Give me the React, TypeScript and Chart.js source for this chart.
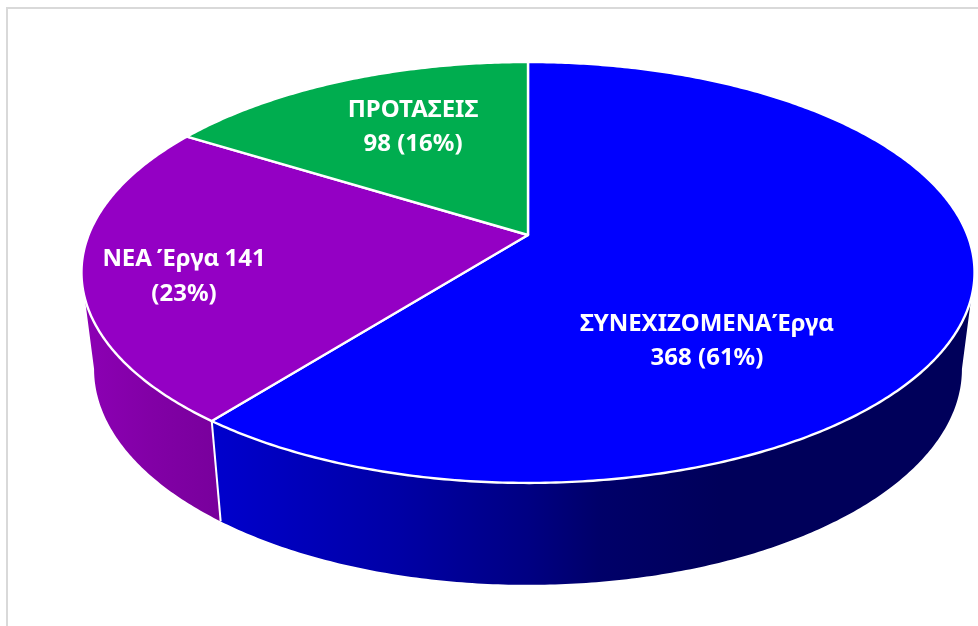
import React, { useEffect, useRef } from "react";
import { Chart, registerables } from "chart.js";

Chart.register(...registerables);

const categories = ["ΣΥΝΕΧΙΖΟΜΕΝΑ Έργα", "ΝΕΑ Έργα", "ΠΡΟΤΑΣΕΙΣ"];
const values = [368, 141, 98];
const percents = [61, 23, 16];
const colors = ["#0000FF", "#9400C4", "#00AD4F"];

// Projection of the tilted disc (unit circle -> screen, with perspective)
const CX = 528;
const P = 0.178;
const TOP = { a: 439.4, b: 203.8, y: 235 };
const BOTTOM = { a: 427, b: 209, y: 330.6 };

const project = (plane: { a: number; b: number; y: number }, angle: number) => {
  const t = angle + Math.PI / 2;
  const u = Math.sin(t);
  const v = -Math.cos(t);
  const w = 1 - P * v;
  return { x: CX + (plane.a * u) / w, y: plane.y + (plane.b * v) / w };
};

const arcPoints = (plane: typeof TOP, start: number, end: number) => {
  const n = Math.max(2, Math.ceil(Math.abs(end - start) / 0.01));
  const pts = [];
  for (let i = 0; i <= n; i++) pts.push(project(plane, start + ((end - start) * i) / n));
  return pts;
};

const wallStops: Record<number, [number, string][]> = {
  0: [
    [212, "#0000CD"],
    [400, "#0000A5"],
    [530, "#000082"],
    [600, "#000069"],
    [720, "#00005A"],
    [975, "#00005A"],
  ],
  1: [
    [85, "#8C00B4"],
    [150, "#8200A6"],
    [220, "#78009C"],
  ],
};

const labelPos = [
  { x: 707, ys: [331, 365], gap: -6, lines: (i: number) => [categories[i], `${values[i]} (${percents[i]}%)`] },
  { x: 184, ys: [266, 301], gap: -1, lines: (i: number) => [`${categories[i]} ${values[i]}`, `(${percents[i]}%)`] },
  { x: 413, ys: [117, 151], gap: 0, lines: (i: number) => [categories[i], `${values[i]} (${percents[i]}%)`] },
];

const pie3d = {
  id: "pie3d",
  beforeDraw(chart: any) {
    const { ctx, width, height } = chart;
    ctx.save();
    ctx.fillStyle = "#FFFFFF";
    ctx.fillRect(0, 0, width, height);
    ctx.fillStyle = "#D9D9D9";
    ctx.fillRect(6, 7, width - 6, 2);
    ctx.fillRect(6, 7, 2, height - 7);
    ctx.restore();
  },
  beforeDatasetDraw(chart: any, args: any) {
    const { ctx } = chart;
    const arcs = args.meta.data;
    ctx.save();
    ctx.lineJoin = "round";
    ctx.strokeStyle = "#FFFFFF";

    // side walls: from silhouette tangent to silhouette tangent (where v = P)
    const tangent = Math.acos(-P);
    const visStart = -Math.PI / 2 + tangent;
    const visEnd = -Math.PI / 2 + (2 * Math.PI - tangent);
    arcs.forEach((arc: any, i: number) => {
      const start = Math.max(arc.startAngle, visStart);
      const end = Math.min(arc.endAngle, visEnd);
      if (end <= start) return;
      const top = arcPoints(TOP, start, end);
      const bottom = arcPoints(BOTTOM, start, end).reverse();
      const g = ctx.createLinearGradient(0, 0, 978, 0);
      (wallStops[i] || []).forEach(([x, c]) => g.addColorStop(x / 978, c));
      ctx.beginPath();
      [...top, ...bottom].forEach((p, k) => (k ? ctx.lineTo(p.x, p.y) : ctx.moveTo(p.x, p.y)));
      ctx.closePath();
      ctx.fillStyle = g;
      ctx.fill();
    });

    // seam between the two walls
    const seam = arcs[0].endAngle;
    const a = project(TOP, seam);
    const b = project(BOTTOM, seam);
    ctx.lineWidth = 2;
    ctx.beginPath();
    ctx.moveTo(a.x, a.y);
    ctx.lineTo(b.x, b.y);
    ctx.stroke();

    // top face
    arcs.forEach((arc: any) => {
      const rim = arcPoints(TOP, arc.startAngle, arc.endAngle);
      ctx.beginPath();
      ctx.moveTo(CX, TOP.y);
      rim.forEach((p) => ctx.lineTo(p.x, p.y));
      ctx.closePath();
      ctx.fillStyle = arc.options.backgroundColor;
      ctx.fill();
      ctx.lineWidth = 2.4;
      ctx.stroke();
    });
    ctx.restore();
    return false;
  },
  afterDatasetsDraw(chart: any) {
    const { ctx } = chart;
    ctx.save();
    ctx.fillStyle = "#FFFFFF";
    ctx.font = 'bold 24px "Noto Sans"';
    ctx.textAlign = "center";
    ctx.textBaseline = "alphabetic";
    labelPos.forEach((l, i) => {
      l.lines(i).forEach((t, k) => {
        (ctx as any).wordSpacing = k === 0 ? `${l.gap}px` : "0px";
        ctx.fillText(t, l.x, l.ys[k]);
      });
    });
    ctx.restore();
  },
};

export default function App() {
  const ref = useRef<HTMLCanvasElement>(null);
  useEffect(() => {
    const chart = new Chart(ref.current as HTMLCanvasElement, {
      type: "pie",
      data: {
        labels: categories,
        datasets: [{ data: values, backgroundColor: colors, borderColor: "#FFFFFF", borderWidth: 2 }],
      },
      options: {
        responsive: false,
        animation: false,
        plugins: { legend: { display: false }, tooltip: { enabled: false } },
      },
      plugins: [pie3d],
    } as any);
    return () => chart.destroy();
  }, []);
  return (
    <canvas
      ref={ref}
      width={978}
      height={626}
      style={{ position: "fixed", left: 0, top: 0, width: 978, height: 626, display: "block" }}
    />
  );
}
